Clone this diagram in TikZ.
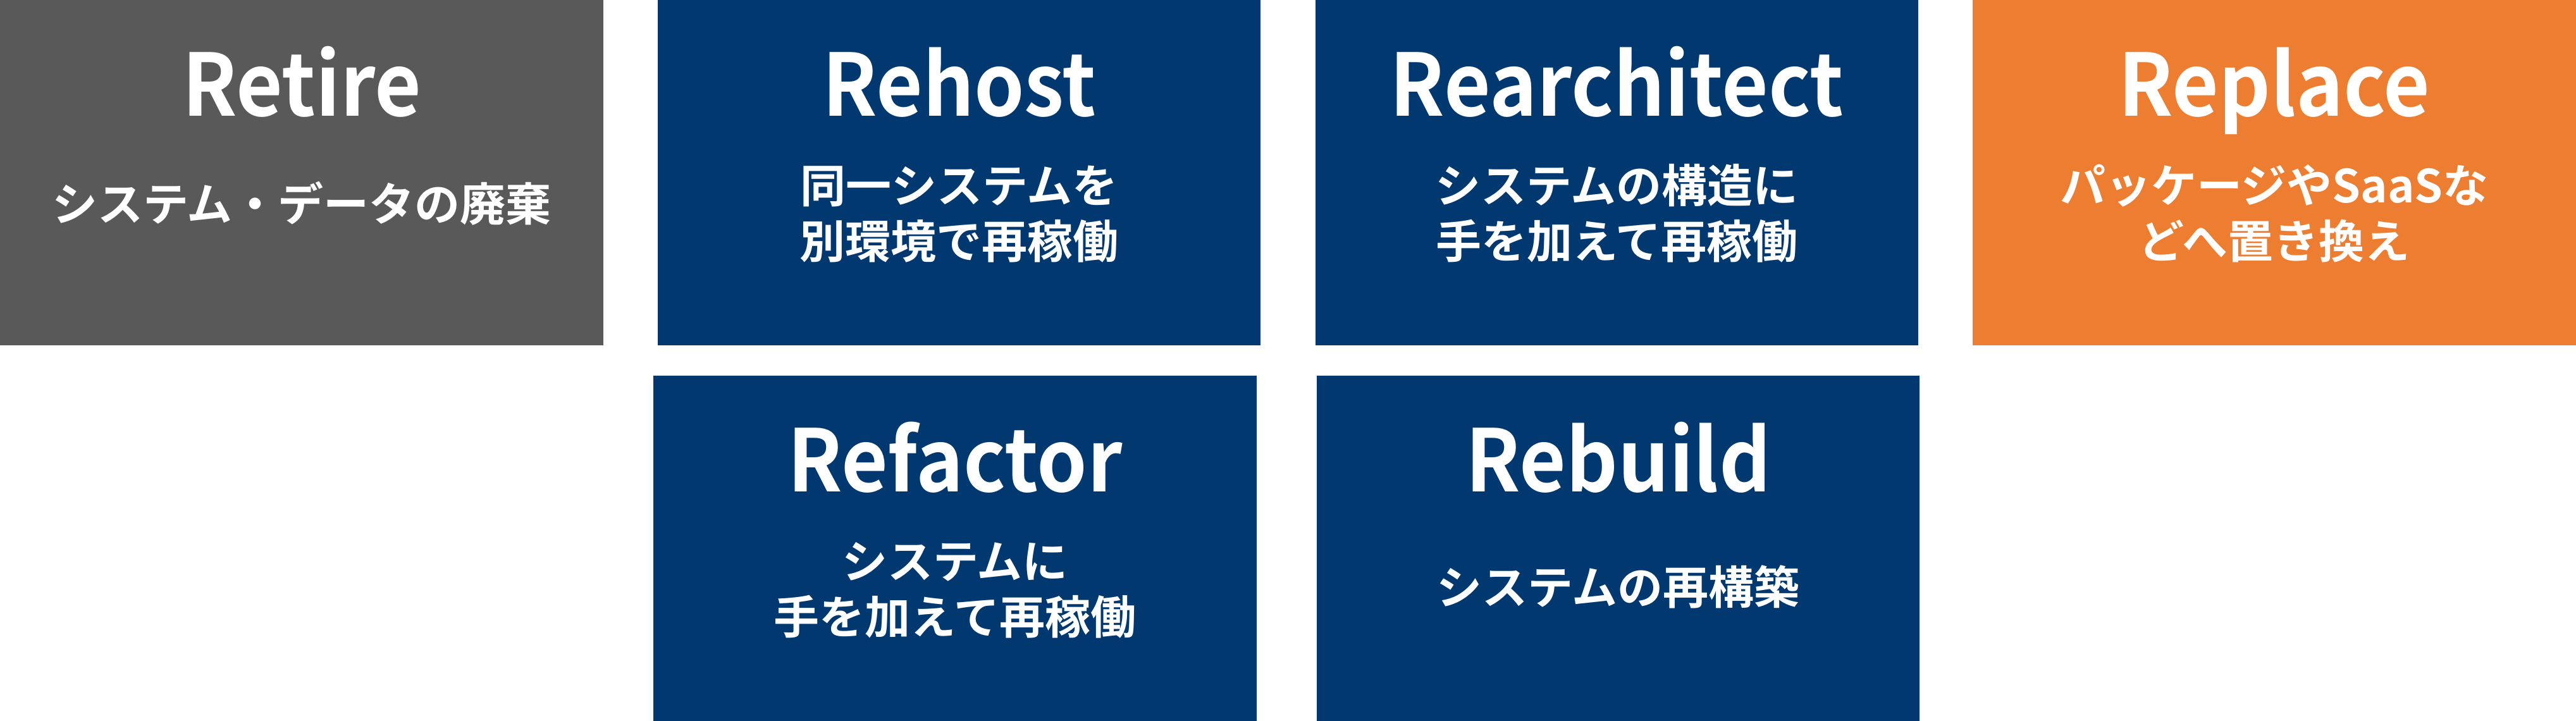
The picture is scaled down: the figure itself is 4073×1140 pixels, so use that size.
\documentclass[tikz,border=0pt]{standalone}
\usepackage{fontspec}
\setmainfont{Noto Sans CJK JP}[BoldFont={Noto Sans CJK JP Bold}]
\newfontfamily\ttlfont{Noto Sans CJK JP Bold}[FakeStretch=0.935]
\definecolor{cgray}{HTML}{595959}
\definecolor{cnavy}{HTML}{00386F}
\definecolor{corange}{HTML}{ED7D31}
\begin{document}
\begin{tikzpicture}[x=0.5pt,y=-0.5pt,
  box/.style={draw=none, inner sep=0pt, outer sep=0pt, anchor=north west, minimum height=273pt},
  ttl/.style={text=white, font=\fontsize{68}{80}\selectfont\ttlfont, anchor=base, inner sep=0pt},
  sub/.style={text=white, font=\fontsize{36}{44}\selectfont\bfseries, anchor=base, inner sep=0pt}]
\useasboundingbox (0,0) rectangle (4073,1140);
% boxes
\node[box, fill=cgray,   minimum width=477pt]   (retire) at (0,0) {};
\node[box, fill=cnavy,   minimum width=476.5pt] (rehost) at (1040,0) {};
\node[box, fill=cnavy,   minimum width=476.5pt] (rearch) at (2080,0) {};
\node[box, fill=corange, minimum width=477pt]   (replace) at (3119,0) {};
\node[box, fill=cnavy,   minimum width=477pt]   (refactor) at (1033,594) {};
\node[box, fill=cnavy,   minimum width=476.5pt] (rebuild) at (2082,594) {};
% titles
\node[ttl] (retireT)   at (477,183)    {Retire};
\node[ttl] (rehostT)   at (1516.5,183) {Rehost};
\node[ttl] (rearchT)   at (2556.5,183) {Rearchitect};
\node[ttl] (replaceT)  at (3596,183)   {Replace};
\node[ttl] (refactorT) at (1510,777)   {Refactor};
\node[ttl] (rebuildT)  at (2558.5,777) {Rebuild};
% descriptions
\node[sub] (retireA)   at (477,349)    {システム・データの廃棄};
\node[sub] (rehostA)   at (1516.5,320) {同一システムを};
\node[sub] (rehostB)   at (1516.5,408) {別環境で再稼働};
\node[sub] (rearchA)   at (2556.5,320) {システムの構造に};
\node[sub] (rearchB)   at (2556.5,408) {手を加えて再稼働};
\node[sub] (replaceA)  at (3596,320)   {パッケージやSaaSな};
\node[sub] (replaceB)  at (3596,408)   {どへ置き換え};
\node[sub] (refactorA) at (1510,914)   {システムに};
\node[sub] (refactorB) at (1510,1002)  {手を加えて再稼働};
\node[sub] (rebuildA)  at (2558.5,955) {システムの再構築};
\end{tikzpicture}
\end{document}
